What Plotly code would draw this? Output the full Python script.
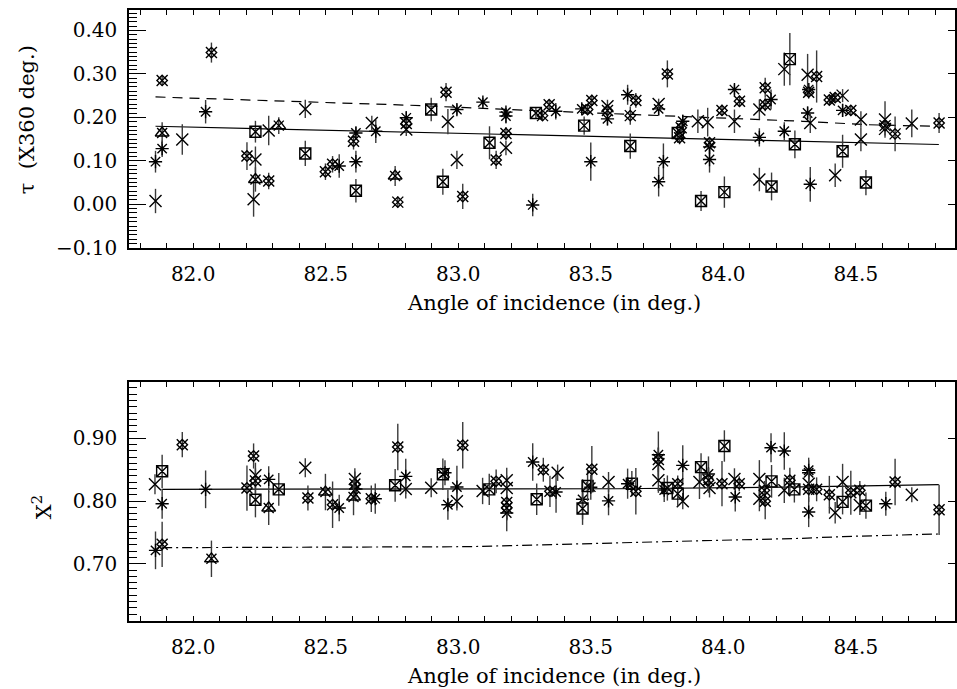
import plotly.graph_objects as go

# ---------------- Top panel: tau (X360 deg.) ----------------
tau_ast_x = [81.858, 81.883, 82.047, 82.551, 82.614, 82.614, 82.689, 82.804, 82.995, 83.093,
             83.180, 83.180, 83.281, 83.368, 83.466, 83.500, 83.563, 83.639, 83.756, 83.756,
             83.774, 83.847, 83.948, 83.948, 84.042, 84.136, 84.180, 84.230, 84.322, 84.318,
             84.328, 84.450]
tau_ast_y = [0.098, 0.128, 0.213, 0.088, 0.164, 0.098, 0.168, 0.199, 0.218, 0.235,
             0.212, 0.203, -0.0015, 0.214, 0.2195, 0.098, 0.1965, 0.252, 0.2195, 0.052,
             0.098, 0.191, 0.132, 0.103, 0.264, 0.154, 0.241, 0.168, 0.264, 0.210,
             0.046, 0.216]
tau_ast_e = [0.025, 0.019, 0.027, 0.027, 0.015, 0.025, 0.027, 0.015, 0.012, 0.010,
             0.010, 0.017, 0.026, 0.019, 0.012, 0.044, 0.015, 0.023, 0.015, 0.034,
             0.042, 0.015, 0.015, 0.030, 0.012, 0.021, 0.023, 0.021, 0.015, 0.015,
             0.040, 0.015]

tau_x_x = [81.858, 81.959, 82.235, 82.228, 82.285, 82.423, 82.674, 82.804, 82.961, 82.995,
           83.180, 83.563, 83.756, 83.904, 83.941, 84.042, 84.136, 84.136, 84.230, 84.318,
           84.328, 84.450, 84.422, 84.519, 84.519, 84.610, 84.610, 84.711]
tau_x_y = [0.0076, 0.149, 0.103, 0.0115, 0.170, 0.2195, 0.187, 0.172, 0.190, 0.102,
           0.130, 0.2255, 0.231, 0.191, 0.189, 0.191, 0.218, 0.057, 0.311, 0.298,
           0.187, 0.250, 0.067, 0.195, 0.149, 0.195, 0.1735, 0.186]
tau_x_e = [0.028, 0.035, 0.030, 0.040, 0.034, 0.021, 0.017, 0.015, 0.029, 0.021,
           0.017, 0.015, 0.012, 0.027, 0.033, 0.027, 0.023, 0.027, 0.038, 0.048,
           0.023, 0.015, 0.027, 0.019, 0.027, 0.042, 0.015, 0.032]

tau_sq_x = [82.235, 82.423, 82.614, 82.898, 82.942, 83.118, 83.293, 83.475, 83.649, 83.828,
            83.916, 84.004, 84.182, 84.251, 84.270, 84.450, 84.538]
tau_sq_y = [0.167, 0.117, 0.031, 0.218, 0.052, 0.1415, 0.210, 0.181, 0.134, 0.164,
            0.0076, 0.028, 0.041, 0.334, 0.138, 0.122, 0.050]
tau_sq_e = [0.025, 0.029, 0.027, 0.027, 0.030, 0.038, 0.012, 0.021, 0.029, 0.023,
            0.023, 0.036, 0.032, 0.060, 0.032, 0.038, 0.029]

tau_dia_x = [81.883, 82.069, 82.203, 82.285, 82.499, 82.526, 82.605, 82.772, 82.804, 82.954,
             83.017, 83.143, 83.180, 83.318, 83.343, 83.488, 83.504, 83.563, 83.649, 83.670,
             83.789, 83.835, 83.841, 83.948, 83.995, 84.061, 84.158, 84.158, 84.322, 84.352,
             84.400, 84.422, 84.481, 84.610, 84.648, 84.814]
tau_dia_y = [0.285, 0.349, 0.111, 0.0535, 0.075, 0.092, 0.145, 0.005, 0.186, 0.258,
             0.018, 0.102, 0.163, 0.204, 0.229, 0.218, 0.239, 0.216, 0.204, 0.239,
             0.300, 0.153, 0.176, 0.1415, 0.216, 0.237, 0.268, 0.229, 0.258, 0.294,
             0.240, 0.2455, 0.216, 0.181, 0.162, 0.187]
tau_dia_e = [0.012, 0.023, 0.032, 0.019, 0.019, 0.019, 0.019, 0.013, 0.012, 0.021,
             0.029, 0.021, 0.015, 0.012, 0.012, 0.012, 0.013, 0.012, 0.021, 0.017,
             0.031, 0.015, 0.012, 0.013, 0.013, 0.013, 0.023, 0.015, 0.015, 0.060,
             0.012, 0.012, 0.012, 0.012, 0.040, 0.023]

tau_tri_x = [81.883, 82.235, 82.323, 82.762]
tau_tri_y = [0.164, 0.057, 0.181, 0.065]
tau_tri_e = [0.025, 0.028, 0.019, 0.023]

tau_fit_x = [81.858, 84.813]
tau_fit_y = [0.1796, 0.1376]
tau_dash_x = [81.858, 82.812, 83.193, 83.531, 83.806, 84.085, 84.299, 84.549, 84.789]
tau_dash_y = [0.247, 0.228, 0.218, 0.210, 0.2025, 0.197, 0.191, 0.183, 0.1796]

# ---------------- Bottom panel: chi^2 ----------------
chi_ast_x = [81.883, 81.858, 82.047, 82.285, 82.551, 82.614, 82.687, 82.802, 82.950, 82.961,
             82.995, 83.183, 83.281, 83.369, 83.469, 83.500, 83.567, 83.639, 83.755, 83.777,
             83.847, 83.944, 84.045, 84.180, 84.230, 84.322, 84.322, 84.322, 84.613]
chi_ast_y = [0.7957, 0.7215, 0.8186, 0.8345, 0.7889, 0.8191, 0.8037, 0.8393, 0.845, 0.7941,
             0.8223, 0.7809, 0.8621, 0.8143, 0.8027, 0.822, 0.8003, 0.8276, 0.8737, 0.8175,
             0.8568, 0.843, 0.8064, 0.8849, 0.8796, 0.849, 0.845, 0.7825, 0.7957]
chi_ast_e = [0.024, 0.030, 0.030, 0.021, 0.021, 0.020, 0.024, 0.028, 0.020, 0.024,
             0.034, 0.029, 0.030, 0.033, 0.032, 0.020, 0.023, 0.024, 0.037, 0.019,
             0.032, 0.028, 0.023, 0.023, 0.030, 0.020, 0.020, 0.024, 0.019]

chi_x_x = [81.856, 82.235, 82.423, 82.610, 82.802, 82.898, 82.995, 83.092, 83.183, 83.183,
           83.375, 83.567, 83.755, 83.755, 83.847, 83.910, 83.948, 84.042, 84.136, 84.136,
           84.230, 84.322, 84.422, 84.450, 84.515, 84.711]
chi_x_y = [0.8266, 0.841, 0.853, 0.835, 0.8191, 0.8212, 0.7998, 0.816, 0.833, 0.8207,
           0.845, 0.8302, 0.859, 0.833, 0.7998, 0.8302, 0.8207, 0.8351, 0.8351, 0.8037,
           0.817, 0.8276, 0.7814, 0.8302, 0.7936, 0.810]
chi_x_e = [0.016, 0.020, 0.015, 0.017, 0.015, 0.015, 0.015, 0.021, 0.020, 0.020,
           0.013, 0.016, 0.020, 0.020, 0.013, 0.027, 0.015, 0.017, 0.030, 0.020,
           0.020, 0.020, 0.017, 0.029, 0.016, 0.012]

chi_sq_x = [81.883, 82.235, 82.323, 82.762, 82.942, 83.117, 83.296, 83.469, 83.488, 83.655,
            83.789, 83.828, 83.916, 84.004, 84.182, 84.268, 84.450, 84.538]
chi_sq_y = [0.8473, 0.802, 0.8186, 0.825, 0.8425, 0.8186, 0.8027, 0.788, 0.8239, 0.8276,
            0.8207, 0.8117, 0.854, 0.8876, 0.8313, 0.8186, 0.7987, 0.7926]
chi_sq_e = [0.0265, 0.028, 0.026, 0.026, 0.025, 0.025, 0.025, 0.026, 0.024, 0.020,
            0.020, 0.020, 0.022, 0.025, 0.026, 0.021, 0.020, 0.021]

chi_dia_x = [81.883, 81.959, 82.203, 82.228, 82.235, 82.433, 82.526, 82.610, 82.672, 82.772,
             83.017, 83.143, 83.183, 83.183, 83.321, 83.346, 83.504, 83.670, 83.755, 83.828,
             83.944, 83.995, 84.060, 84.155, 84.158, 84.251, 84.322, 84.352, 84.400, 84.481,
             84.515, 84.648, 84.814]
chi_dia_y = [0.731, 0.8897, 0.8207, 0.8717, 0.832, 0.8048, 0.7941, 0.827, 0.8037, 0.886,
             0.8887, 0.8313, 0.7977, 0.7889, 0.8498, 0.8154, 0.8505, 0.8154, 0.866, 0.8276,
             0.833, 0.8276, 0.8276, 0.817, 0.7998, 0.833, 0.8186, 0.8186, 0.810, 0.8133,
             0.817, 0.8302, 0.786]
chi_dia_e = [0.036, 0.020, 0.036, 0.020, 0.020, 0.020, 0.037, 0.020, 0.021, 0.037,
             0.037, 0.019, 0.020, 0.020, 0.019, 0.025, 0.037, 0.037, 0.020, 0.013,
             0.020, 0.036, 0.012, 0.015, 0.029, 0.020, 0.020, 0.019, 0.030, 0.035,
             0.015, 0.037, 0.040]

chi_tri_x = [82.069, 82.285, 82.499, 82.605]
chi_tri_y = [0.708, 0.7889, 0.8143, 0.8064]
chi_tri_e = [0.029, 0.027, 0.029, 0.029]

chi_fit_x = [81.883, 83.6, 84.3, 84.813]
chi_fit_y = [0.8186, 0.8195, 0.8225, 0.826]
chi_dd_x = [81.883, 83.042, 83.921, 84.298, 84.450, 84.812]
chi_dd_y = [0.7257, 0.7273, 0.7368, 0.7406, 0.7434, 0.7475]

x_ticks = [82.0, 82.5, 83.0, 83.5, 84.0, 84.5]
x_ticklabels = ["82.0", "82.5", "83.0", "83.5", "84.0", "84.5"]
tau_ticks = [-0.10, 0.00, 0.10, 0.20, 0.30, 0.40]
tau_ticklabels = ["\u22120.10", "0.00", "0.10", "0.20", "0.30", "0.40"]
chi_ticks = [0.70, 0.80, 0.90]
chi_ticklabels = ["0.70", "0.80", "0.90"]

FONT = "DejaVu Serif"
INK = "black"
ERRC = "#3a3a3a"

SYMS = {
    "ast": [("asterisk-open", 11)],
    "x": [("x-thin-open", 12)],
    "sq": [("square-x-open", 11)],
    "dia": [("x-thin-open", 11), ("diamond-open", 8)],
    "tri": [("triangle-up-open", 12), ("x-thin-open", 10)],
}

fig = go.Figure()


def add_points(xs, ys, es, kind, xa, ya):
    for i, (sym, size) in enumerate(SYMS[kind]):
        fig.add_trace(go.Scatter(
            x=xs, y=ys, mode="markers", xaxis=xa, yaxis=ya,
            marker=dict(symbol=sym, size=size, color=INK, line=dict(width=1.4, color=INK)),
            error_y=dict(type="data", array=es, symmetric=True, width=0,
                         thickness=1.4, color=ERRC, visible=(i == 0)),
            showlegend=False, hoverinfo="skip"))


# top panel lines
fig.add_trace(go.Scatter(x=tau_fit_x, y=tau_fit_y, mode="lines", xaxis="x", yaxis="y",
                         line=dict(color=INK, width=1.2), showlegend=False, hoverinfo="skip"))
fig.add_trace(go.Scatter(x=tau_dash_x, y=tau_dash_y, mode="lines", xaxis="x", yaxis="y",
                         line=dict(color=INK, width=1.2, dash="10px,7px"), showlegend=False,
                         hoverinfo="skip"))
# bottom panel lines
fig.add_trace(go.Scatter(x=chi_fit_x, y=chi_fit_y, mode="lines", xaxis="x2", yaxis="y2",
                         line=dict(color=INK, width=1.2), showlegend=False, hoverinfo="skip"))
fig.add_trace(go.Scatter(x=chi_dd_x, y=chi_dd_y, mode="lines", xaxis="x2", yaxis="y2",
                         line=dict(color=INK, width=1.2, dash="10px,4px,2px,4px"),
                         showlegend=False, hoverinfo="skip"))

add_points(tau_ast_x, tau_ast_y, tau_ast_e, "ast", "x", "y")
add_points(tau_x_x, tau_x_y, tau_x_e, "x", "x", "y")
add_points(tau_sq_x, tau_sq_y, tau_sq_e, "sq", "x", "y")
add_points(tau_dia_x, tau_dia_y, tau_dia_e, "dia", "x", "y")
add_points(tau_tri_x, tau_tri_y, tau_tri_e, "tri", "x", "y")

add_points(chi_ast_x, chi_ast_y, chi_ast_e, "ast", "x2", "y2")
add_points(chi_x_x, chi_x_y, chi_x_e, "x", "x2", "y2")
add_points(chi_sq_x, chi_sq_y, chi_sq_e, "sq", "x2", "y2")
add_points(chi_dia_x, chi_dia_y, chi_dia_e, "dia", "x2", "y2")
add_points(chi_tri_x, chi_tri_y, chi_tri_e, "tri", "x2", "y2")

# empty traces so the right-hand tick axes are drawn
fig.add_trace(go.Scatter(x=[None], y=[None], xaxis="x", yaxis="y3", showlegend=False,
                         hoverinfo="skip", mode="markers"))
fig.add_trace(go.Scatter(x=[None], y=[None], xaxis="x2", yaxis="y4", showlegend=False,
                         hoverinfo="skip", mode="markers"))

XR = [81.758, 84.874]
TAUR = [-0.1005, 0.447]
CHIR = [0.609, 0.9895]
tickfont = dict(family=FONT, size=20, color=INK)

xcommon = dict(range=XR, tickmode="array", tickvals=x_ticks, ticktext=x_ticklabels,
               ticks="inside", ticklen=5, tickwidth=1.3, tickcolor=INK,
               minor=dict(dtick=0.1, ticks="inside", ticklen=3, tickwidth=1.2, tickcolor=INK),
               showline=True, linewidth=1.6, linecolor=INK, mirror="allticks",
               showgrid=False, zeroline=False, tickfont=tickfont, ticklabelstandoff=7,
               automargin=False)
ycommon = dict(ticks="inside", ticklen=17, tickwidth=1.3, tickcolor=INK,
               minor=dict(dtick=0.01, ticks="inside", ticklen=8, tickwidth=1.1, tickcolor=INK),
               showline=True, linewidth=1.6, linecolor=INK, mirror=False,
               showgrid=False, zeroline=False, tickfont=tickfont, tickmode="array",
               ticklabelstandoff=6, automargin=False)
yright = dict(ticks="inside", ticklen=7, tickwidth=1.3, tickcolor=INK, side="right",
              showline=True, linewidth=1.6, linecolor=INK, showgrid=False, zeroline=False,
              showticklabels=False, tickmode="array", automargin=False)

fig.update_layout(
    width=957, height=689,
    margin=dict(l=129, r=2, t=10, b=68, autoexpand=False),
    paper_bgcolor="white", plot_bgcolor="white",
    font=dict(family=FONT, size=20, color=INK),
    xaxis=dict(domain=[0, 1], anchor="y", **xcommon),
    yaxis=dict(domain=[0.6105, 1.0], anchor="x", range=TAUR, tickvals=tau_ticks,
               ticktext=tau_ticklabels, **ycommon),
    yaxis3=dict(overlaying="y", anchor="x", range=TAUR, tickvals=tau_ticks, **yright),
    xaxis2=dict(domain=[0, 1], anchor="y2", **xcommon),
    yaxis2=dict(domain=[0.0, 0.3912], anchor="x2", range=CHIR, tickvals=chi_ticks,
                ticktext=chi_ticklabels, **ycommon),
    yaxis4=dict(overlaying="y2", anchor="x2", range=CHIR, tickvals=chi_ticks, **yright),
    annotations=[
        dict(text="Angle of incidence (in deg.)", xref="paper", yref="paper",
             x=0.514, y=0.5205, showarrow=False, xanchor="center", yanchor="middle",
             font=dict(family=FONT, size=21, color=INK)),
        dict(text="Angle of incidence (in deg.)", xref="paper", yref="paper",
             x=0.514, y=-0.090, showarrow=False, xanchor="center", yanchor="middle",
             font=dict(family=FONT, size=21, color=INK)),
        dict(text="\u03c4  (X360 deg.)", xref="paper", yref="paper",
             x=-0.1233, y=0.82, showarrow=False, textangle=-90,
             xanchor="center", yanchor="middle",
             font=dict(family=FONT, size=21, color=INK)),
        dict(text="X<sup>2</sup>", xref="paper", yref="paper",
             x=-0.105, y=0.1866, showarrow=False, textangle=-90,
             xanchor="center", yanchor="middle",
             font=dict(family=FONT, size=21, color=INK)),
    ],
)

fig.write_html("out.html", config={"displayModeBar": False},
               post_script="document.body.style.margin='0';"
                           "document.body.style.overflow='hidden';")
